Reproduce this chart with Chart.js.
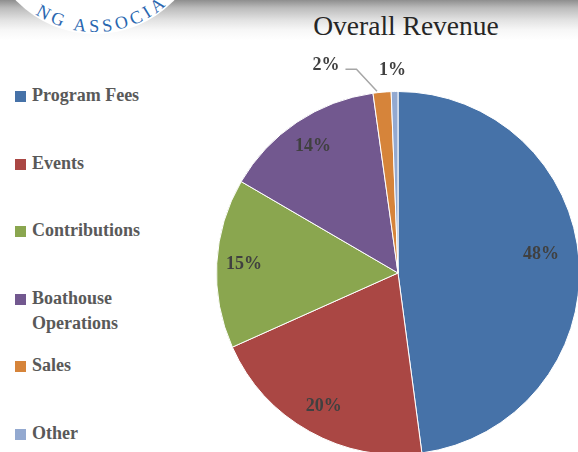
<!DOCTYPE html>
<html>
<head>
<meta charset="utf-8">
<script src="https://cdn.jsdelivr.net/npm/chart.js@4/dist/chart.umd.min.js"></script>
<style>
html,body{margin:0;padding:0;width:578px;height:452px;overflow:hidden;background:#fff;}
#bg{position:absolute;left:0;top:0;width:578px;height:42px;
  background:linear-gradient(to bottom,#8e8e8e 0px,#bcbcbc 8px,#e2e2e2 20px,#f7f7f7 30px,#ffffff 40px);}
#logo{position:absolute;left:0;top:0;}
#wrap{position:absolute;left:0;top:0;width:600px;height:480px;}
#title{position:absolute;left:256px;width:300px;top:12px;text-align:center;
  font-family:"Liberation Serif",serif;font-size:27.5px;line-height:27px;color:#262626;white-space:nowrap;}
.lg{position:absolute;left:15px;font-family:"Liberation Serif",serif;font-weight:bold;font-size:18px;
  line-height:25px;color:#595959;}
.lg .sw{position:absolute;left:0;top:8px;width:11px;height:11px;}
.lg .tx{position:absolute;left:17px;top:0;width:140px;}
</style>
</head>
<body>
<div id="bg"></div>
<svg id="logo" width="200" height="42" viewBox="0 0 200 42">
  <circle cx="95" cy="-76" r="110" fill="#ffffff"/>
  <defs><path id="arc" d="M -13 -76 A 108 108 0 0 0 203 -76"/></defs>
  <text font-family="Liberation Serif,serif" font-size="18" fill="#2a67b0" letter-spacing="3.8">
    <textPath href="#arc" startOffset="106">NG ASSOCIA</textPath>
  </text>
</svg>
<div id="title">Overall Revenue</div>
<div id="legend"></div>
<div id="wrap"><canvas id="c" width="600" height="480"></canvas></div>
<script>
// ---- data ----
const categories = ["Program Fees", "Events", "Contributions", "Boathouse Operations", "Sales", "Other"];
const revenueShare = [47.9, 20.4, 15.1, 14.4, 1.6, 0.6];
const sliceColors = ["#4672a8", "#aa4744", "#8aa64f", "#72588f", "#d6843a", "#93a9d0"];

// ---- label styling (inside vs outside) ----
const labelStyle = [
  {inside:true, rf:0.80, dx:-2, dy:-9},
  {inside:true, rf:0.84, dx:0, dy:0},
  {inside:true, rf:0.85, dx:0, dy:0},
  {inside:true, rf:0.84, dx:0, dy:0},
  {inside:false, dx:-56, dy:-26, leader:true},
  {inside:false, dx:-2, dy:-20, leader:false}
];

// legend
const legendEl = document.getElementById('legend');
categories.forEach((name, i) => {
  const d = document.createElement('div');
  d.className = 'lg';
  d.style.top = (83 + i * 67.5) + 'px';
  d.innerHTML = '<div class="sw" style="background:' + sliceColors[i] + '"></div><div class="tx">' + name + '</div>';
  legendEl.appendChild(d);
});

const total = revenueShare.reduce((a, b) => a + b, 0);

const labelPlugin = {
  id: 'pieLabels',
  afterDatasetsDraw(chart) {
    const ctx = chart.ctx;
    const meta = chart.getDatasetMeta(0);
    ctx.save();
    ctx.font = 'bold 18px "Liberation Serif", serif';
    ctx.fillStyle = '#404040';
    ctx.textAlign = 'center';
    ctx.textBaseline = 'middle';
    meta.data.forEach((arc, i) => {
      const p = arc.getProps(['x', 'y', 'startAngle', 'endAngle', 'outerRadius'], true);
      const mid = (p.startAngle + p.endAngle) / 2;
      const st = labelStyle[i];
      const txt = Math.round(revenueShare[i] / total * 100) + '%';
      if (st.inside) {
        const r = p.outerRadius * st.rf;
        ctx.fillText(txt, p.x + Math.cos(mid) * r + st.dx, p.y + Math.sin(mid) * r + st.dy);
      } else {
        const ex = p.x + Math.cos(mid) * (p.outerRadius + 1);
        const ey = p.y + Math.sin(mid) * (p.outerRadius + 1);
        const lx = ex + st.dx, ly = ey + st.dy;
        ctx.fillText(txt, lx, ly);
        if (st.leader) {
          const w = ctx.measureText(txt).width;
          ctx.beginPath();
          ctx.strokeStyle = '#a6a6a6';
          ctx.lineWidth = 1.5;
          ctx.moveTo(lx + w / 2 + 6, ly + 4);
          ctx.lineTo(lx + w / 2 + 17, ly + 4);
          ctx.lineTo(ex - 5, ey);
          ctx.stroke();
        }
      }
    });
    ctx.restore();
  }
};

new Chart(document.getElementById('c'), {
  type: 'pie',
  data: {
    labels: categories,
    datasets: [{
      data: revenueShare,
      backgroundColor: sliceColors,
      borderColor: '#ffffff',
      borderWidth: 1
    }]
  },
  options: {
    responsive: false,
    devicePixelRatio: 1,
    animation: false,
    layout: {padding: {left: 216, top: 91, right: 20, bottom: 25}},
    plugins: {legend: {display: false}, title: {display: false}, tooltip: {enabled: false}}
  },
  plugins: [labelPlugin]
});
</script>
</body>
</html>
